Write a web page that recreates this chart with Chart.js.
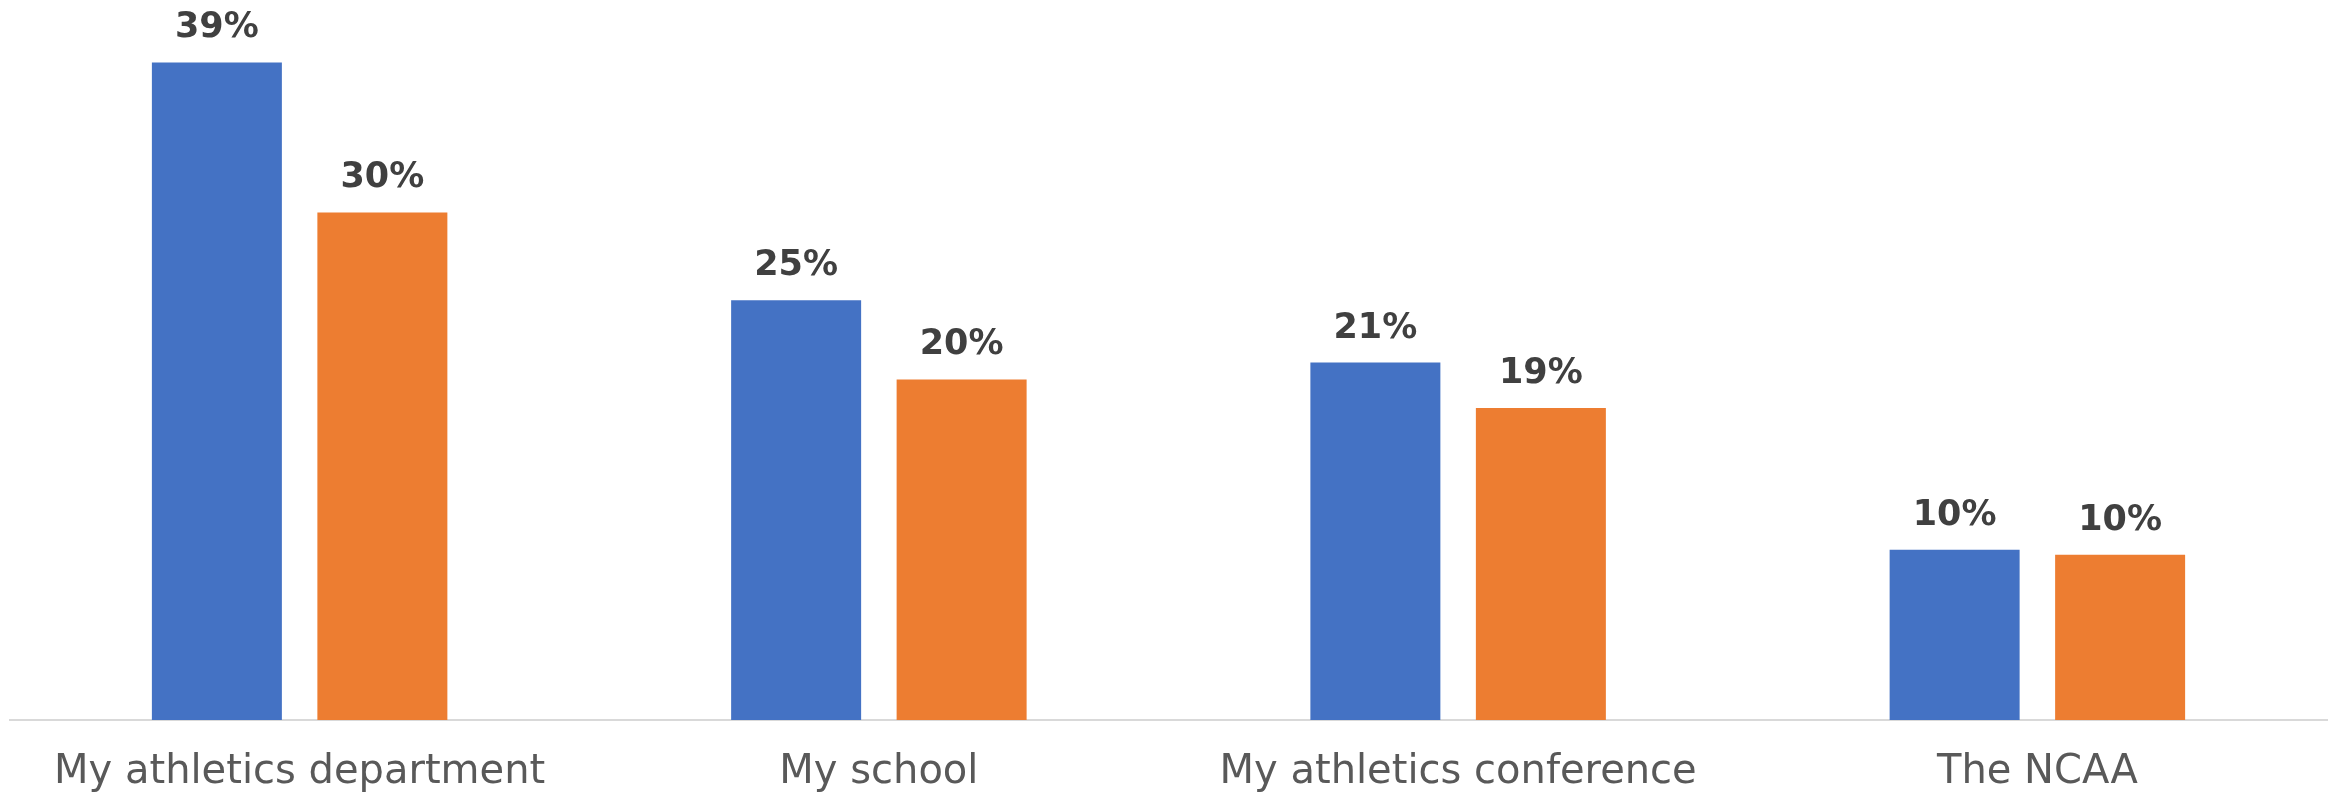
<!DOCTYPE html>
<html>
<head>
<meta charset="utf-8">
<script src="https://cdn.jsdelivr.net/npm/chart.js@4.4.1/dist/chart.umd.min.js"></script>
<style>
  html, body { margin: 0; padding: 0; background: #ffffff; }
  #wrap { width: 2336px; height: 793px; position: relative; }
</style>
</head>
<body>
<div id="wrap"><canvas id="chart"></canvas></div>
<script>
var categories = ["My athletics department", "My school", "My athletics conference", "The NCAA"];
var seriesA = [39, 24.9, 21.2, 10.1];
var seriesB = [30.1, 20.2, 18.5, 9.8];

var valueLabels = {
  id: "valueLabels",
  afterDatasetsDraw: function (chart) {
    var ctx = chart.ctx;
    ctx.save();
    ctx.font = "bold 35px 'DejaVu Sans'";
    ctx.fillStyle = "#404040";
    ctx.textAlign = "center";
    ctx.textBaseline = "alphabetic";
    chart.data.datasets.forEach(function (ds, i) {
      chart.getDatasetMeta(i).data.forEach(function (bar, j) {
        ctx.fillText(Math.round(ds.data[j]) + "%", bar.x, bar.y - 25);
      });
    });
    ctx.restore();
  },
};

document.addEventListener("DOMContentLoaded", function () {
  var ctx = document.getElementById("chart").getContext("2d");

  new Chart(ctx, {
    type: "bar",
    data: {
      labels: categories,
      datasets: [
        {
          label: "Series 1",
          data: seriesA,
          backgroundColor: "#4472C4",
          categoryPercentage: 0.5714,
          barPercentage: 0.7855,
        },
        {
          label: "Series 2",
          data: seriesB,
          backgroundColor: "#ED7D31",
          categoryPercentage: 0.5714,
          barPercentage: 0.7855,
        },
      ],
    },
    options: {
      responsive: true,
      maintainAspectRatio: false,
      animation: false,
      devicePixelRatio: 1,
      layout: { padding: { left: 10, right: 9, top: 0, bottom: -33 } },
      plugins: {
        legend: { display: false },
        tooltip: { enabled: false },
      },
      scales: {
        x: {
          grid: { display: false, drawTicks: false },
          border: { display: true, color: "#d9d9d9", width: 2 },
          ticks: {
            color: "#595959",
            font: { family: "'DejaVu Sans'", size: 40, lineHeight: 1.0 },
            padding: 33,
            maxRotation: 0,
            autoSkip: false,
          },
        },
        y: {
          display: false,
          min: 0,
          max: 42.7,
        },
      },
    },
    plugins: [valueLabels],
  });
});
</script>
</body>
</html>
